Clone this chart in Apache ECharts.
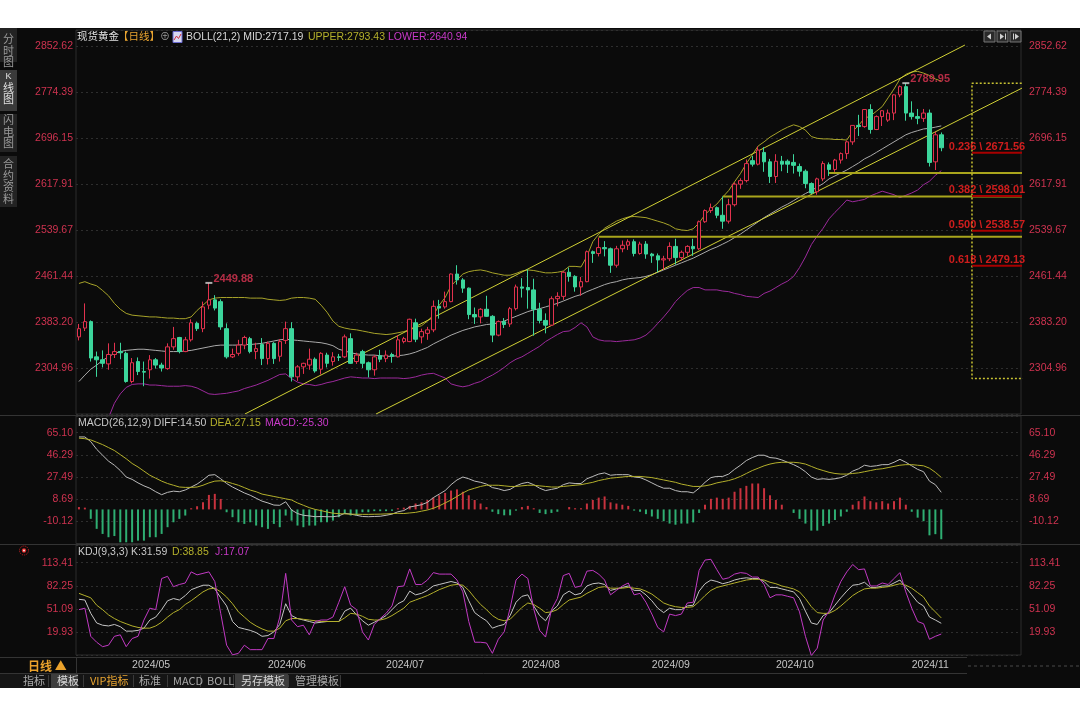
<!DOCTYPE html>
<html><head><meta charset="utf-8">
<script src="https://cdn.jsdelivr.net/npm/echarts@6/dist/echarts.min.js"></script>
<style>
html,body{margin:0;padding:0;background:#fff;}
#c{width:1080px;height:720px;background:linear-gradient(to bottom,#fff 0,#fff 28px,#0b0b0b 28px,#0b0b0b 688px,#fff 688px,#fff 720px);}
</style></head><body><div id="c"></div>
<script>
const tradingDays = [
'2024/04/18','2024/04/19','2024/04/22','2024/04/23','2024/04/24','2024/04/25','2024/04/26','2024/04/29','2024/04/30',
'2024/05/01','2024/05/02','2024/05/03','2024/05/06','2024/05/07','2024/05/08','2024/05/09','2024/05/10','2024/05/13','2024/05/14','2024/05/15','2024/05/16','2024/05/17','2024/05/20','2024/05/21','2024/05/22','2024/05/23','2024/05/24','2024/05/27','2024/05/28','2024/05/29','2024/05/30','2024/05/31',
'2024/06/03','2024/06/04','2024/06/05','2024/06/06','2024/06/07','2024/06/10','2024/06/11','2024/06/12','2024/06/13','2024/06/14','2024/06/17','2024/06/18','2024/06/19','2024/06/20','2024/06/21','2024/06/24','2024/06/25','2024/06/26','2024/06/27','2024/06/28',
'2024/07/01','2024/07/02','2024/07/03','2024/07/04','2024/07/05','2024/07/08','2024/07/09','2024/07/10','2024/07/11','2024/07/12','2024/07/15','2024/07/16','2024/07/17','2024/07/18','2024/07/19','2024/07/22','2024/07/23','2024/07/24','2024/07/25','2024/07/26','2024/07/29','2024/07/30','2024/07/31',
'2024/08/01','2024/08/02','2024/08/05','2024/08/06','2024/08/07','2024/08/08','2024/08/09','2024/08/12','2024/08/13','2024/08/14','2024/08/15','2024/08/16','2024/08/19','2024/08/20','2024/08/21','2024/08/22','2024/08/23','2024/08/26','2024/08/27','2024/08/28','2024/08/29','2024/08/30',
'2024/09/02','2024/09/03','2024/09/04','2024/09/05','2024/09/06','2024/09/09','2024/09/10','2024/09/11','2024/09/12','2024/09/13','2024/09/16','2024/09/17','2024/09/18','2024/09/19','2024/09/20','2024/09/23','2024/09/24','2024/09/25','2024/09/26','2024/09/27','2024/09/30',
'2024/10/01','2024/10/02','2024/10/03','2024/10/04','2024/10/07','2024/10/08','2024/10/09','2024/10/10','2024/10/11','2024/10/14','2024/10/15','2024/10/16','2024/10/17','2024/10/18','2024/10/21','2024/10/22','2024/10/23','2024/10/24','2024/10/25','2024/10/28','2024/10/29','2024/10/30','2024/10/31',
'2024/11/01','2024/11/04','2024/11/05','2024/11/06','2024/11/07','2024/11/08'];
const emptySlots = ['e1','e2','e3','e4','e5','e6','e7','e8','e9','e10','e11','e12','e13'];

// [open, high, low, close]
const candles = [
[2358,2380,2352,2372],[2373,2415,2368,2384],[2384,2386,2316,2322],[2324,2333,2290,2319],[2319,2335,2306,2313],[2312,2347,2302,2328],[2328,2348,2322,2333],[2333,2348,2320,2331],[2330,2333,2280,2282],
[2282,2322,2279,2314],[2316,2323,2293,2299],[2299,2316,2274,2298],[2302,2327,2287,2319],[2319,2322,2304,2310],[2310,2314,2299,2305],[2304,2347,2302,2341],[2341,2375,2336,2355],[2357,2358,2330,2333],[2333,2358,2332,2353],[2353,2388,2350,2382],[2381,2384,2368,2372],[2372,2418,2366,2409],[2412,2449.88,2405,2421],[2421,2429,2403,2407],[2418,2422,2370,2375],[2372,2381,2321,2324],[2324,2338,2322,2328],[2330,2353,2326,2344],[2344,2360,2337,2357],[2355,2358,2330,2333],[2333,2348,2320,2338],[2345,2356,2310,2321],
[2321,2350,2311,2347],[2347,2349,2312,2321],[2325,2354,2316,2350],[2352,2384,2346,2372],[2372,2383,2282,2290],[2290,2310,2283,2307],[2307,2314,2295,2313],[2310,2338,2302,2320],[2320,2323,2297,2300],[2303,2332,2294,2330],[2327,2331,2306,2313],[2316,2332,2309,2324],[2324,2329,2317,2323],[2324,2362,2322,2358],[2355,2364,2312,2313],[2316,2331,2312,2327],[2333,2336,2305,2313],[2314,2316,2289,2302],[2302,2327,2292,2324],[2326,2336,2315,2320],
[2321,2335,2315,2327],[2328,2331,2314,2325],[2324,2361,2323,2353],[2350,2358,2347,2355],[2350,2389,2349,2388],[2382,2389,2349,2354],[2358,2372,2347,2367],[2364,2375,2353,2370],[2370,2420,2366,2410],[2410,2421,2389,2407],[2409,2435,2406,2418],[2418,2466,2417,2465],[2465,2480,2447,2455],[2455,2458,2433,2441],[2441,2442,2388,2396],[2396,2408,2380,2392],[2392,2407,2381,2405],[2405,2428,2392,2393],[2393,2395,2349,2361],[2361,2386,2359,2384],[2384,2390,2373,2379],[2380,2409,2375,2406],[2406,2447,2403,2443],
[2443,2458,2425,2441],[2442,2473,2406,2438],[2438,2457,2360,2405],[2405,2416,2381,2386],[2386,2398,2364,2378],[2378,2427,2377,2423],[2423,2434,2410,2427],[2427,2470,2421,2468],[2468,2476,2452,2461],[2461,2463,2435,2443],[2443,2460,2428,2452],[2452,2505,2451,2503],[2503,2505,2484,2500],[2500,2527,2495,2510],[2510,2521,2495,2508],[2508,2510,2467,2480],[2480,2513,2476,2508],[2508,2522,2502,2514],[2514,2524,2506,2520],[2520,2524,2495,2500],[2500,2520,2498,2516],[2516,2521,2491,2499],
[2499,2501,2484,2496],[2496,2500,2468,2489],[2489,2496,2472,2491],[2491,2519,2487,2512],[2512,2525,2481,2493],[2493,2505,2488,2502],[2502,2514,2496,2512],[2512,2525,2496,2508],[2508,2556,2506,2554],[2554,2575,2552,2573],[2573,2585,2569,2578],[2578,2580,2560,2565],[2565,2597,2542,2555],[2555,2593,2551,2583],[2583,2621,2580,2618],[2618,2628,2610,2624],[2624,2660,2621,2653],[2658,2666,2648,2652],[2652,2682,2650,2676],[2672,2681,2639,2656],[2656,2661,2620,2631],
[2631,2669,2620,2657],[2657,2666,2640,2652],[2657,2660,2637,2652],[2655,2669,2636,2650],[2648,2653,2631,2640],[2640,2643,2611,2619],[2619,2621,2601,2603],[2605,2629,2600,2627],[2627,2657,2623,2653],[2651,2655,2632,2643],[2643,2661,2639,2659],[2659,2672,2653,2670],[2670,2692,2661,2690],[2690,2718,2685,2718],[2718,2736,2700,2716],[2716,2745,2714,2745],[2745,2754,2704,2711],[2711,2735,2710,2733],[2733,2744,2717,2743],[2727,2745,2724,2739],[2739,2771,2727,2770],[2770,2786,2766,2784],[2784,2789.95,2726,2739],
[2739,2759,2728,2733],[2733,2746,2720,2730],[2730,2746,2724,2739],[2739,2745,2648,2655],[2656,2707,2642,2702],[2702,2706,2674,2680]];

const bollUpper = [2449,2452,2448,2445,2437,2428,2415,2405,2398,2395,2394,2393,2392,2392,2391,2390,2390,2389,2389,2392,2403,2412,2421,2424,2425,2425,2425,2425,2425,2424,2424,2424,2422,2421,2420,2421,2424,2425,2425,2424,2422,2412,2400,2385,2376,2373,2371,2370,2368,2366,2364,2363,2362,2363,2365,2367,2370,2374,2377,2385,2395,2412,2425,2445,2455,2465,2469,2471,2472,2470,2467,2465,2463,2463,2466,2470,2472,2471,2469,2467,2467,2468,2470,2478,2478,2477,2495,2520,2533,2543,2549,2555,2559,2562,2563,2562,2561,2558,2555,2552,2548,2542,2540,2539,2542,2552,2566,2576,2584,2596,2607,2622,2636,2653,2668,2683,2690,2698,2704,2710,2715,2719,2716,2710,2699,2696,2695,2695,2694,2694,2693,2708,2718,2730,2734,2742,2750,2765,2780,2797,2805,2809,2810,2807,2803,2797,2793.43];
const bollMid = [2282,2293,2303,2310,2318,2324,2330,2333,2335,2336,2337,2337,2336,2335,2334,2333,2333,2333,2334,2335,2337,2339,2341,2343,2344,2344,2344,2344,2345,2345,2346,2347,2349,2351,2353,2354,2353,2352,2351,2350,2349,2348,2346,2343,2337,2334,2331,2329,2328,2327,2327,2326,2325,2325,2326,2327,2329,2332,2336,2340,2346,2351,2356,2361,2365,2369,2372,2375,2377,2379,2380,2382,2385,2389,2393,2397,2401,2404,2406,2409,2412,2415,2419,2423,2427,2430,2435,2439,2443,2447,2450,2452,2455,2457,2458,2459,2461,2464,2468,2472,2476,2480,2484,2488,2492,2497,2502,2507,2511,2516,2521,2527,2533,2540,2547,2554,2561,2567,2573,2579,2584,2590,2596,2602,2607,2613,2619,2627,2632,2637,2642,2648,2654,2661,2666,2672,2678,2684,2690,2696,2702,2706,2709,2712,2713,2715,2717.19];
const bollLower = [2115,2134,2158,2175,2199,2220,2245,2261,2272,2277,2278,2278,2276,2276,2275,2274,2274,2274,2275,2274,2271,2266,2261,2260,2261,2262,2264,2266,2270,2273,2276,2280,2284,2289,2294,2295,2287,2281,2278,2277,2275,2277,2280,2282,2285,2288,2290,2289,2288,2288,2287,2288,2288,2288,2288,2287,2288,2290,2293,2295,2296,2292,2288,2278,2275,2273,2275,2279,2282,2288,2293,2299,2306,2314,2320,2324,2330,2336,2342,2350,2356,2362,2367,2368,2374,2382,2375,2358,2353,2351,2351,2350,2351,2352,2353,2356,2361,2370,2381,2392,2404,2418,2428,2437,2442,2442,2438,2438,2438,2436,2435,2432,2430,2427,2426,2425,2432,2436,2442,2448,2453,2461,2476,2494,2515,2530,2543,2559,2570,2580,2591,2588,2590,2592,2598,2602,2606,2603,2600,2595,2599,2603,2608,2617,2623,2633,2640.94];

const macdDiff = [61.5,61.5,57.5,51,46,41,37.5,33,27.5,25.5,22.5,20,18,15,12.5,14.5,15.5,15,16.5,19,21.5,25,29,29.5,26,22,19,16.5,14,12,9.5,7,5.5,3.7,3.5,6.5,-0.5,-3.5,-5,-5.5,-6.2,-6,-6.2,-6.2,-5.5,-3.3,-4,-5,-6,-6.2,-6,-5.8,-5,-4,-2,-1,2,3,4,6,10,13,16,21,25,27.5,26,24,23,21.5,18.5,17.5,16,17,20,22,23,21,18,16,17,18,21,22.5,22,22,26,28,30,31,29,29.5,29.5,29.5,27.5,27,25,22.5,20,18,18,16,15,15,14,18,23,27,28,28,30,34,37.5,41.5,44,46,46,44,43.5,42,40,38,35.5,32,27.5,25.5,26,25.5,26,27,29,32.5,34.5,37.5,36.5,37,38,38,40,42.5,40,37,34,32,24,21,14.5];
const macdDea = [60.5,60,59,57,55,52.5,50,46.5,43,39,36,32.5,29,26.5,24,22,20.5,19,18.7,18.7,19,20.5,22.5,24,24.3,23.5,22,20.5,18.5,16.4,15,13,12,11,10,9,8,5.5,3.5,1.5,0,-1,-2.2,-3.2,-3.6,-3.8,-4,-4.1,-4.2,-4.2,-4.1,-4,-3.8,-3.6,-3.3,-3.5,-3,-2.5,-1.5,-0.5,1,3,5.5,8,11,14,16.5,18,19.5,20.5,20.5,20.5,20,19.5,19.5,20,20.5,20.5,20,19.5,19,19,19.5,20,20.5,21,22,23,24.5,25.5,26.5,27,27.5,28,28,28,27.5,27,26,25,24,23,21.5,20.5,19.5,19.5,20,21,22.5,23.5,24.5,26,28,30.5,33,35,37,38.5,39.5,40,40,40,39.5,38.5,36.5,34.5,33,31.5,30.5,30,30,30.5,31,32,33,34,34.5,35.5,36.5,37.5,38,38,37.5,37,35,31.5,27.15];
const macdHist = [2,1.5,-8,-16.5,-20.8,-23.6,-22.6,-27.9,-27.9,-27.9,-26.5,-26.5,-23.6,-23.6,-20.8,-15.1,-10.9,-8,-5.2,1,2.7,6.1,12.3,13.2,8.9,-2.4,-6.6,-10.9,-12.3,-10.9,-13.7,-15.1,-16.5,-12.3,-15.1,-5.2,-9.5,-13.7,-15.1,-13.7,-13.7,-10.9,-10.9,-9.5,-6.6,-3.7,-5.2,-5.2,-2.4,-2.4,-1.5,-1.5,-1.5,-1.2,1,1.5,3,5,6,8,10,12,14,16,17,15,12,8,5,2,-2,-4,-5,-5,-1,2,3,1,-3,-4,-3,-2,0,2,1,1,5,8,10,11,6,5,4,3,-1,-2,-4,-6,-8,-10,-12,-13,-12,-12,-11,-3,4,9,10,9,10,15,18,20,22,22,18,12,8,4,0,-3,-8,-12,-18,-18,-14,-12,-9,-6,-2,4,7,11,7,6,7,5,7,10,4,-2,-7,-10,-22,-21,-25.3];

const kdjK = [64,63,45,32,29,28,30,27,21,21,22,25,36,40,50,62,65,63,69,77,80,83,83,78,66,55,34,26,24,22,19,14,15,20,30,58,42,38,36,34,32,33,34,34,34,48,52,43,35,29,33,37,42,50,58,62,75,70,72,76,82,84,86,88,86,80,62,46,40,35,25,28,30,42,60,68,70,55,42,35,48,55,70,75,70,72,82,85,86,84,76,78,80,82,76,76,70,62,52,46,52,50,50,55,56,75,85,90,88,85,87,90,92,93,92,92,88,80,80,78,76,74,65,48,32,30,42,46,56,66,75,83,84,87,80,80,82,82,86,90,80,70,60,55,40,36,31.59];
const kdjD = [72,69,66,56,50,43,38,34,31,28,26,25,25,28,33,40,46,50,57,62,68,74,78,79,74,67,58,47,40,33,28,24,21,21,25,35,38,38,37,36,35,34,34,34,34,39,45,44,41,37,36,36,38,42,47,52,60,63,66,69,73,77,80,83,84,83,76,66,57,50,42,37,35,37,45,53,59,57,52,46,47,50,57,63,65,67,72,76,80,81,79,79,79,80,79,78,75,71,65,59,56,54,53,53,54,61,69,76,80,82,84,86,88,90,91,91,90,87,85,82,80,78,74,65,54,46,45,45,49,55,62,69,74,78,79,79,80,81,83,85,83,79,73,67,55,47,38.85];
const kdjJ = [50,52,14,6,0,2,14,16,0,11,14,36,52,50,92,95,81,84,86,101,97,99,101,88,45,2,-11,-9,2,-4,-4,-4,11,11,40,99,36,27,29,16,34,36,36,40,60,81,56,50,20,9,30,38,45,55,81,82,105,84,84,90,100,98,98,98,90,74,34,6,6,5,-9,10,20,52,90,98,92,51,22,13,50,65,96,99,80,82,102,103,98,90,70,76,82,86,70,72,60,44,26,20,44,42,44,59,60,103,117,118,104,91,93,98,100,99,94,94,84,66,70,70,68,66,47,14,-12,-2,36,48,70,88,101,111,104,105,82,82,86,84,92,100,74,52,34,31,10,14,17.07];

const priceTicks = ['2852.62','2774.39','2696.15','2617.91','2539.67','2461.44','2383.20','2304.96'];
const macdTicks = ['65.10','46.29','27.49','8.69','-10.12'];
const kdjTicks = ['113.41','82.25','51.09','19.93'];

const peakMarks = [[22, 2449.88], [140, 2789.95]];
const trendLines = [[[28.1, 2226.7], [150.0, 2854.8]], [[50.3, 2226.7], [159.7, 2781.6]]];
const levelLines = [[127, 2637], [109, 2597], [88, 2528.5]];
const fibRatios = ['0.236', '0.382', '0.500', '0.618'];
const fibPrices = [2671.56, 2598.01, 2538.57, 2479.13];
const fibRange = [2789.95, 2287.19];
const fibSpan = [151.2, 160.3];

// ---------- helpers ----------
const cats = tradingDays.concat(emptySlots);
const ohlcData = candles.map(c => [c[0], c[3], c[2], c[1]]);
function tickFmt(list) {
  return function (v) {
    for (const s of list) if (Math.abs(parseFloat(s) - v) < 0.05) return s;
    return '';
  };
}
const L = 76, W = 945;
const grids = [
  {left: L, width: W, top: 30, height: 384},
  {left: L, width: W, top: 416, height: 127.5},
  {left: L, width: W, top: 545, height: 110}
].map(g => Object.assign(g, {show: true, borderColor: '#2c2c2c', borderWidth: 1, backgroundColor: 'transparent', containLabel: false, outerBoundsMode: 'none'}));

const labelColor = '#cf3350';
const FONT = 'Liberation Sans, Arial, Noto Sans CJK SC, sans-serif';
function yAx(gridIndex, min, max, interval, ticks, right) {
  return {
    type: 'value', gridIndex, min, max, interval, position: right ? 'right' : 'left', scale: false,
    axisLine: {show: false}, axisTick: {show: false},
    splitLine: {show: !right, lineStyle: {color: '#2e2e2e', type: [2, 3], width: 1}},
    axisLabel: {show: true, color: labelColor, fontSize: 10.5, fontFamily: FONT, margin: right ? 8 : 3,
      align: right ? 'left' : 'right', formatter: tickFmt(ticks), showMinLabel: true, showMaxLabel: true}
  };
}
function xCat(gridIndex, showLabels) {
  return {
    type: 'category', gridIndex, data: cats, boundaryGap: true,
    axisLine: {show: false}, axisTick: {show: false}, splitLine: {show: false},
    axisLabel: showLabels ? {
      show: true, color: '#c4c4c4', fontSize: 10.5, fontFamily: FONT, margin: 5, align: 'left',
      interval: function (i, v) { return i > 0 && i < tradingDays.length && v.slice(0, 7) !== cats[i - 1].slice(0, 7); },
      formatter: function (v) { return v.slice(0, 7); }
    } : {show: false}
  };
}

const P_MIN = 2226.7229, P_INT = 78.2371, P_MAX = 2880.41;
const series = [];
series.push({
  type: 'candlestick', xAxisIndex: 0, yAxisIndex: 0, data: ohlcData, barWidth: 4,
  itemStyle: {color: '#0b0b0b', color0: '#3cd69c', borderColor: '#e2324e', borderColor0: '#3cd69c', borderWidth: 1},
  z: 5
});
[[bollUpper, '#a8a42a'], [bollMid, '#aaaaaa'], [bollLower, '#9c2a9c']].forEach(function (b) {
  series.push({type: 'line', xAxisIndex: 0, yAxisIndex: 0, data: b[0], symbol: 'none', smooth: false,
    lineStyle: {color: b[1], width: 1}, z: 3, silent: true});
});
trendLines.forEach(function (t) {
  series.push({type: 'line', xAxisIndex: 1, yAxisIndex: 0, data: t, symbol: 'none',
    lineStyle: {color: '#d0d035', width: 1}, z: 4, clip: true, silent: true});
});
levelLines.forEach(function (h) {
  series.push({type: 'line', xAxisIndex: 1, yAxisIndex: 0, data: [[h[0], h[1]], [fibSpan[1], h[1]]], symbol: 'none',
    lineStyle: {color: '#a9a51c', width: 2}, z: 4, clip: false, silent: true});
});
const boxStyle = {color: '#c8c232', width: 1.5, type: [2, 2]};
series.push({type: 'line', xAxisIndex: 1, yAxisIndex: 0, symbol: 'none', clip: false, silent: true, z: 4,
  data: [[fibSpan[1], fibRange[0]], [fibSpan[0], fibRange[0]], [fibSpan[0], fibRange[1]], [fibSpan[1], fibRange[1]]],
  lineStyle: boxStyle});
fibPrices.forEach(function (p) {
  series.push({type: 'line', xAxisIndex: 1, yAxisIndex: 0, data: [[fibSpan[0], p], [fibSpan[1], p]], symbol: 'none',
    lineStyle: {color: '#a80000', width: 2}, z: 4, clip: false, silent: true});
});
series.push({type: 'scatter', xAxisIndex: 1, yAxisIndex: 0, symbol: 'rect', symbolSize: 1, clip: false, silent: true, z: 6,
  itemStyle: {color: 'rgba(0,0,0,0)'},
  data: fibPrices.map(function (p, i) { return {value: [fibSpan[1], p], name: fibRatios[i]}; }),
  label: {show: true, position: [0, 0], align: 'right', verticalAlign: 'bottom', offset: [0, 0],
    color: '#ff2222', fontSize: 11, fontWeight: 'bold', fontFamily: FONT,
    formatter: function (p) { return p.name + ' \\ ' + p.value[1].toFixed(2); }}
});
series.push({type: 'scatter', xAxisIndex: 0, yAxisIndex: 0, symbol: 'rect', symbolSize: [7, 2], clip: false, silent: true, z: 6,
  itemStyle: {color: '#d6d6d6'},
  data: peakMarks.map(function (m) { return [m[0], m[1]]; }),
  label: {show: true, position: [0, 0], align: 'left', verticalAlign: 'middle', offset: [8, -3],
    color: '#dd3552', fontSize: 11, fontWeight: 'bold', fontFamily: FONT,
    formatter: function (p) { return p.value[1].toFixed(2); }}
});
series.push({type: 'bar', xAxisIndex: 2, yAxisIndex: 2, data: macdHist, barWidth: 2, silent: true,
  itemStyle: {color: function (p) { return p.value >= 0 ? '#c8323e' : '#2fae72'; }}});
series.push({type: 'line', xAxisIndex: 2, yAxisIndex: 2, data: macdDiff, symbol: 'none', lineStyle: {color: '#bcbcbc', width: 1}, silent: true});
series.push({type: 'line', xAxisIndex: 2, yAxisIndex: 2, data: macdDea, symbol: 'none', lineStyle: {color: '#b4b02c', width: 1}, silent: true});
series.push({type: 'line', xAxisIndex: 3, yAxisIndex: 4, data: kdjK, symbol: 'none', lineStyle: {color: '#c6c6c6', width: 1}, silent: true});
series.push({type: 'line', xAxisIndex: 3, yAxisIndex: 4, data: kdjD, symbol: 'none', lineStyle: {color: '#b4b02c', width: 1}, silent: true});
series.push({type: 'line', xAxisIndex: 3, yAxisIndex: 4, data: kdjJ, symbol: 'none', lineStyle: {color: '#c23ac4', width: 1}, silent: true});

// ---------- decorations ----------
function txt(x, y, s, color, size, extra) {
  return Object.assign({type: 'text', x: x, y: y, silent: true, z: 10,
    style: Object.assign({text: s, fill: color, font: (size || 11) + 'px ' + FONT, textVerticalAlign: 'middle', verticalAlign: 'middle'}, extra || {})});
}
function rect(x, y, w, h, fill, stroke) {
  return {type: 'rect', shape: {x: x, y: y, width: w, height: h}, silent: true, z: 1,
    style: {fill: fill, stroke: stroke || null, lineWidth: stroke ? 1 : 0}};
}
function hline(x1, x2, y, color, dash) {
  return {type: 'line', shape: {x1: x1, y1: y, x2: x2, y2: y}, silent: true, z: 1,
    style: {stroke: color, lineWidth: 1, lineDash: dash || null}};
}
function vline(x, y1, y2, color) {
  return {type: 'line', shape: {x1: x, y1: y1, x2: x, y2: y2}, silent: true, z: 1, style: {stroke: color, lineWidth: 1}};
}
const g = [];
g.push(rect(0, 28, 17, 34, '#232323'));
g.push(rect(0, 70, 17, 41, '#3a3a3a'));
g.push(rect(0, 114, 17, 38, '#232323'));
g.push(rect(0, 156, 17, 51, '#232323'));
function vtext(x, y, chars, color, sizes) {
  chars.forEach(function (c, i) {
    g.push(txt(x, y + i * 11.5, c, color, sizes ? sizes[i] : 11, {align: 'center', textAlign: 'center'}));
  });
}
vtext(8.5, 40, ['分', '时', '图'], '#9a9a9a');
vtext(8.5, 77, ['K', '线', '图'], '#e0e0e0', [9, 11, 11]);
vtext(8.5, 121, ['闪', '电', '图'], '#9a9a9a');
vtext(8.5, 165, ['合', '约', '资', '料'], '#9a9a9a');
g.push(hline(0, 1080, 415.5, '#343434'));
g.push(hline(0, 1080, 544.5, '#343434'));
g.push(hline(0, 967, 657.5, '#343434'));
g.push(hline(0, 967, 673.5, '#343434'));
g.push(hline(968, 1080, 666, '#4a4a4a', [3, 3]));
g.push(vline(76.5, 657.5, 673.5, '#343434'));
const HF = 10.5;
g.push(txt(77, 37.5, '现货黄金', '#e2e2e2', HF));
g.push(txt(118, 37.5, '【日线】', '#e8a431', HF));
g.push(txt(160, 37.5, '⊕', '#9a9a9a', 10));
g.push(rect(173, 31.5, 9, 11, '#d8d8f0', '#6a6ad0'));
g.push({type: 'polyline', shape: {points: [[174, 40], [176.5, 36], [178.5, 38.5], [181, 34]]}, silent: true, z: 11, style: {stroke: '#d03040', lineWidth: 1, fill: null}});
g.push(txt(186, 37.5, 'BOLL(21,2) MID:2717.19', '#d8d8d8', HF));
g.push(txt(308, 37.5, 'UPPER:2793.43', '#b4b02c', HF));
g.push(txt(388, 37.5, 'LOWER:2640.94', '#c93ac9', HF));
[984, 997, 1010].forEach(function (x) { g.push(rect(x, 31, 11, 11, '#2a2a2a', '#777777')); });
g.push({type: 'polygon', shape: {points: [[991, 33.5], [991, 39.5], [987, 36.5]]}, silent: true, z: 11, style: {fill: '#cfcfcf'}});
g.push({type: 'polygon', shape: {points: [[1000, 33.5], [1000, 39.5], [1004, 36.5]]}, silent: true, z: 11, style: {fill: '#cfcfcf'}});
g.push(vline(1005.5, 33.5, 39.5, '#cfcfcf'));
g.push(vline(1013.5, 33.5, 39.5, '#cfcfcf'));
g.push({type: 'polygon', shape: {points: [[1015, 33.5], [1015, 39.5], [1019, 36.5]]}, silent: true, z: 11, style: {fill: '#cfcfcf'}});
g.push(txt(78, 423.5, 'MACD(26,12,9) DIFF:14.50', '#c8c8c8', HF));
g.push(txt(210, 423.5, 'DEA:27.15', '#b4b02c', HF));
g.push(txt(265, 423.5, 'MACD:-25.30', '#c93ac9', HF));
g.push({type: 'circle', shape: {cx: 24, cy: 550.5, r: 4.5}, silent: true, z: 10, style: {fill: null, stroke: '#d02020', lineWidth: 1, lineDash: [1, 1]}});
g.push({type: 'circle', shape: {cx: 24, cy: 550.5, r: 2.2}, silent: true, z: 10, style: {fill: '#e02828'}});
g.push({type: 'circle', shape: {cx: 24, cy: 550.5, r: 0.9}, silent: true, z: 11, style: {fill: '#ffffff'}});
g.push(txt(78, 552.5, 'KDJ(9,3,3) K:31.59', '#c8c8c8', HF));
g.push(txt(172, 552.5, 'D:38.85', '#b4b02c', HF));
g.push(txt(215, 552.5, 'J:17.07', '#c93ac9', HF));
g.push(txt(28, 666, '日线 ▲', '#eaa22c', 12, {font: 'bold 12px Noto Sans CJK SC, sans-serif'}));
g.push(rect(0, 674, 340, 14, '#151515'));
g.push(rect(51, 674, 27, 14, '#3d3d3d'));
g.push(rect(235, 674, 53, 14, '#3d3d3d'));
[48, 83, 133, 167, 200, 233, 288, 340].forEach(function (x) { g.push(vline(x + 0.5, 675, 687, '#3a3a3a')); });
const tabs = [[23, '指标', '#a8a8a8'], [57, '模板', '#d8d8d8'], [90, 'VIP指标', '#e8a431'], [139, '标准', '#a8a8a8'],
  [173, 'MACD', '#a8a8a8'], [207, 'BOLL', '#a8a8a8'], [241, '另存模板', '#d8d8d8'], [295, '管理模板', '#a8a8a8']];
tabs.forEach(function (t) { g.push(txt(t[0], 681, t[1], t[2], 11, {font: '11px Noto Sans CJK SC, sans-serif'})); });

const option = {
  animation: false,
  backgroundColor: 'transparent',
  textStyle: {fontFamily: FONT},
  grid: grids,
  xAxis: [
    xCat(0, false),
    {type: 'value', gridIndex: 0, min: -0.5, max: cats.length - 0.5, show: false, splitLine: {show: false}},
    xCat(1, false),
    xCat(2, true)
  ],
  yAxis: [
    yAx(0, P_MIN, P_MAX, P_INT, priceTicks, false),
    yAx(0, P_MIN, P_MAX, P_INT, priceTicks, true),
    yAx(1, -28.925, 79.28, 18.805, macdTicks, false),
    yAx(1, -28.925, 79.28, 18.805, macdTicks, true),
    yAx(2, -11.23, 137.3, 31.16, kdjTicks, false),
    yAx(2, -11.23, 137.3, 31.16, kdjTicks, true)
  ],
  graphic: g,
  series: series
};
const chart = echarts.init(document.getElementById('c'), null, {renderer: 'canvas'});
chart.setOption(option);
</script></body></html>
